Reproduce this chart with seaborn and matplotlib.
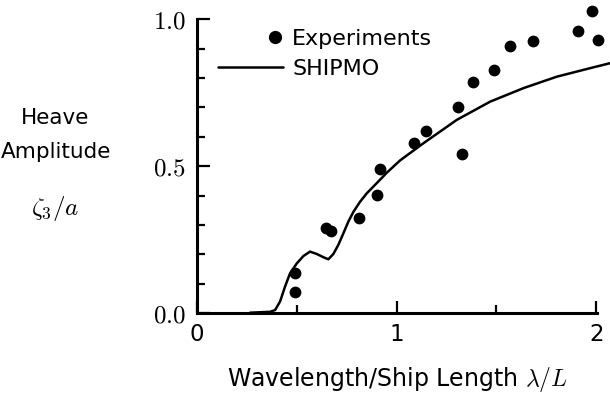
import numpy as np
import pandas as pd
import matplotlib
matplotlib.use("Agg")
import matplotlib.pyplot as plt
from matplotlib.lines import Line2D
from matplotlib.legend_handler import HandlerLine2D
import seaborn as sns

# Measured heave amplitude (experiments)
exp_wavelength = [0.49, 0.49, 0.647, 0.672, 0.81, 0.90, 0.917, 1.088, 1.148,
                  1.31, 1.33, 1.385, 1.487, 1.569, 1.683, 1.91, 1.98, 2.01]
exp_heave = [0.135, 0.072, 0.291, 0.280, 0.322, 0.401, 0.492, 0.580, 0.620,
             0.700, 0.541, 0.788, 0.828, 0.910, 0.928, 0.960, 1.030, 0.929]

# SHIPMO strip-theory prediction
shipmo_wavelength = [0.266, 0.366, 0.391, 0.416, 0.441, 0.466, 0.50, 0.533,
                     0.566, 0.60, 0.633, 0.658, 0.683, 0.708, 0.733, 0.758,
                     0.784, 0.817, 0.851, 0.90, 0.951, 1.018, 1.134, 1.302,
                     1.469, 1.636, 1.803, 1.970, 2.07]
shipmo_heave = [0.001, 0.004, 0.010, 0.039, 0.090, 0.135, 0.169, 0.194,
                0.209, 0.201, 0.190, 0.183, 0.201, 0.232, 0.271, 0.311,
                0.345, 0.379, 0.408, 0.442, 0.478, 0.520, 0.578, 0.658,
                0.720, 0.766, 0.805, 0.834, 0.851]

y_ticks = [0.0, 0.5, 1.0]
x_ticks = [0, 1, 2]

sns.set_style("ticks")
plt.rcParams["font.family"] = ["DejaVu Sans"]
plt.rcParams["mathtext.fontset"] = "cm"
for key in ("text.color", "axes.labelcolor", "xtick.color", "ytick.color",
            "axes.edgecolor"):
    plt.rcParams[key] = "black"

fig = plt.figure(figsize=(6.10, 3.93), dpi=100)
ax = fig.add_axes([0.323, 0.2036, 0.656, 0.747])

exp_df = pd.DataFrame({"x": exp_wavelength, "y": exp_heave})
sim_df = pd.DataFrame({"x": shipmo_wavelength, "y": shipmo_heave})

sns.lineplot(data=sim_df, x="x", y="y", ax=ax, color="black", lw=1.8,
             sort=False, clip_on=False)
ax.lines[-1].set_solid_joinstyle("round")
sns.scatterplot(data=exp_df, x="x", y="y", ax=ax, color="black", s=72,
                edgecolor="black", linewidth=0, clip_on=False, zorder=3)

ax.set_xlim(0, 2.005)
ax.set_ylim(0, 1.0)
sns.despine(ax=ax)
for side in ("left", "bottom"):
    ax.spines[side].set_linewidth(2.2)

ax.set_yticks(y_ticks)
ax.set_yticklabels([f"${v:.1f}$" for v in y_ticks], fontsize=18)
ax.set_yticks(np.arange(0, 1.01, 0.1), minor=True)
ax.set_xticks(x_ticks)
ax.set_xticklabels([str(v) for v in x_ticks], fontsize=16.5)
ax.set_xticks([0.5, 1.5], minor=True)
ax.tick_params(axis="both", which="major", direction="in", length=9, width=1.6)
ax.tick_params(axis="both", which="minor", direction="in", length=5.5, width=1.6)
ax.tick_params(axis="y", which="major", pad=8)
ax.tick_params(axis="x", which="major", pad=7)

ax.set_xlabel("Wavelength/Ship Length $\\lambda/L$", fontsize=17, labelpad=14)
ax.set_ylabel("")

fig.text(0.090, 0.700, "Heave", fontsize=15.5, ha="center", va="center")
fig.text(0.092, 0.613, "Amplitude", fontsize=15.5, ha="center", va="center")
fig.text(0.090, 0.470, "$\\zeta_3/a$", fontsize=18, ha="center", va="center")


class RightMarkerHandler(HandlerLine2D):
    """Place the single legend marker near the right end of the handle box."""

    def get_xdata(self, legend, xdescent, ydescent, width, height, fontsize):
        m = width - xdescent - 0.37 * fontsize
        xdata = np.array([m - 1.0, m + 1.0])
        return xdata, np.array([m])


h_exp = Line2D([], [], ls="none", marker="o", color="black", markersize=8.5)
h_sim = Line2D([], [], color="black", lw=1.8)
ax.legend([h_exp, h_sim], ["Experiments", "SHIPMO"], loc="upper left",
          bbox_to_anchor=(0.035, 0.991), frameon=False, fontsize=16,
          handlelength=2.95, handletextpad=0.4, labelspacing=0.46,
          borderaxespad=0.0, borderpad=0.3,
          handler_map={h_exp: RightMarkerHandler(numpoints=1)})

fig.savefig("out.png", dpi=100)
